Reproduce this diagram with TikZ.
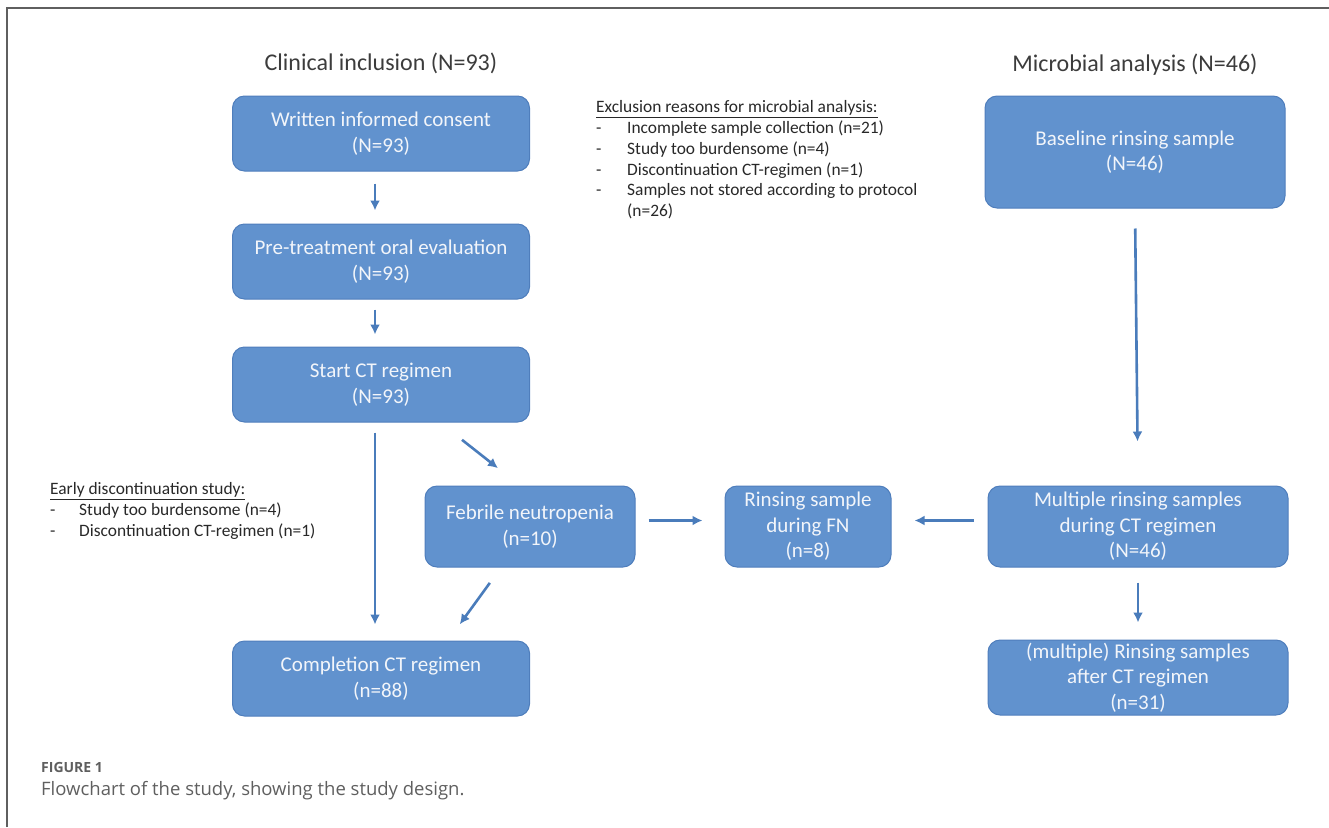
\documentclass[tikz,border=0pt]{standalone}
\usepackage{fontspec}
\setmainfont{Carlito}
\newfontfamily\capfont{Open Sans}
\usetikzlibrary{arrows.meta,positioning}

\definecolor{boxfill}{RGB}{97,146,206}
\definecolor{boxline}{RGB}{79,126,188}
\definecolor{boxtext}{RGB}{242,245,250}
\definecolor{arrowcol}{RGB}{74,124,187}
\definecolor{titlecol}{RGB}{60,60,60}
\definecolor{notecol}{RGB}{40,40,40}
\definecolor{framecol}{RGB}{95,95,95}
\definecolor{capcol}{RGB}{95,95,95}

\tikzset{
  basic/.style={
    draw=boxline,
    line width=1pt,
    fill=boxfill,
    rounded corners=12pt,
    text=boxtext,
    align=center,
    inner sep=1pt,
    font=\fontsize{21}{25.5}\selectfont,
  },
  colbox/.style={basic, minimum width=297pt, minimum height=75pt},
  rightbox/.style={basic, minimum width=300pt},
  title/.style={text=titlecol, inner sep=0pt, font=\fontsize{24}{28}\selectfont},
  note/.style={text=notecol, inner sep=0pt, anchor=north west,
    font=\fontsize{17.4}{20.8}\selectfont},
  flow/.style={->, draw=arrowcol, line width=2.6pt},
}

\begin{document}
\begin{tikzpicture}[
  x=1pt, y=-1pt,
  >={Latex[length=10pt,width=10pt]}
  ]
\useasboundingbox (0,0) rectangle (1329,827);
\draw[framecol, line width=1.4pt] (7,827) -- (7,8) -- (1329,8);

% headings
\node[title](t1) at (381,63){Clinical inclusion (N=93)};
\node[title](t2) at (1135,65){Microbial analysis (N=46)};

% clinical column
\node[colbox](c1) at (381,133.5){Written informed consent\\(N=93)};
\node[colbox, below=52pt of c1](c2){Pre-treatment oral evaluation\\(N=93)};
\node[colbox, below=47pt of c2](c3){Start CT regimen\\(N=93)};
\node[colbox, below=218pt of c3](c4){Completion CT regimen\\(n=88)};

% middle row
\node[basic, minimum width=210pt, minimum height=81pt](fn) at (530,526.5){Febrile neutropenia\\(n=10)};
\node[basic, minimum width=166pt, minimum height=81pt, right=89pt of fn](rs){Rinsing sample\\during FN\\(n=8)};

% microbial column
\node[rightbox, minimum height=112pt](m1) at (1135,152){Baseline rinsing sample\\(N=46)};
\node[rightbox, minimum height=81pt, right=96pt of rs](m2){Multiple rinsing samples\\during CT regimen\\(N=46)};
\node[rightbox, minimum height=75pt, below=72pt of m2](m3){(multiple) Rinsing samples\\after CT regimen\\(n=31)};

% exclusion notes
\node[note](excl) at (596,98){%
  \begin{tabular}{@{}p{31pt}@{}l@{}}
  \multicolumn{2}{@{}l@{}}{\underline{Exclusion reasons for microbial analysis:}}\\
  - & Incomplete sample collection (n=21)\\
  - & Study too burdensome (n=4)\\
  - & Discontinuation CT-regimen (n=1)\\
  - & Samples not stored according to protocol\\
    & (n=26)
  \end{tabular}};
\node[note](early) at (50,480){%
  \begin{tabular}{@{}p{29pt}@{}l@{}}
  \multicolumn{2}{@{}l@{}}{\underline{Early discontinuation study:}}\\
  - & Study too burdensome (n=4)\\
  - & Discontinuation CT-regimen (n=1)
  \end{tabular}};

% caption
\node[anchor=base west, inner sep=0pt, text=capcol, font=\capfont\bfseries\fontsize{14}{16}\selectfont](fig) at (41,772){FIGURE 1};
\node[anchor=base west, inner sep=0pt, text=capcol, font=\capfont\fontsize{18.5}{22}\selectfont](cap) at (41,795){Flowchart of the study, showing the study design.};

% arrows down the clinical column
\foreach \a/\b/\s/\e in {c1/c2/12/13, c2/c3/10/12, c3/c4/10/16}
  \draw[flow, shorten <=\s pt, shorten >=\e pt] ([xshift=-6pt]\a.south) -- ([xshift=-6pt]\b.north);

% side branch through febrile neutropenia
\draw[flow, shorten <=28pt, shorten >=28pt] ([xshift=59pt]c3.south) -- ([xshift=-10pt]fn.north);
\draw[flow, shorten <=19pt, shorten >=20pt] ([xshift=-29pt]fn.south) -- ([xshift=67pt]c4.north);
\draw[flow, shorten <=13pt, shorten >=22pt] ([yshift=6pt]fn.east) -- ([yshift=6pt]rs.west);
\draw[flow, shorten <=14pt, shorten >=23pt] ([yshift=6pt]m2.west) -- ([yshift=6pt]rs.east);

% arrows down the microbial column
\draw[flow, shorten <=20pt, shorten >=44pt] (m1.south) -- (m2.north);
\draw[flow, shorten <=15pt, shorten >=17pt] (m2.south) -- (m3.north);

\end{tikzpicture}
\end{document}
